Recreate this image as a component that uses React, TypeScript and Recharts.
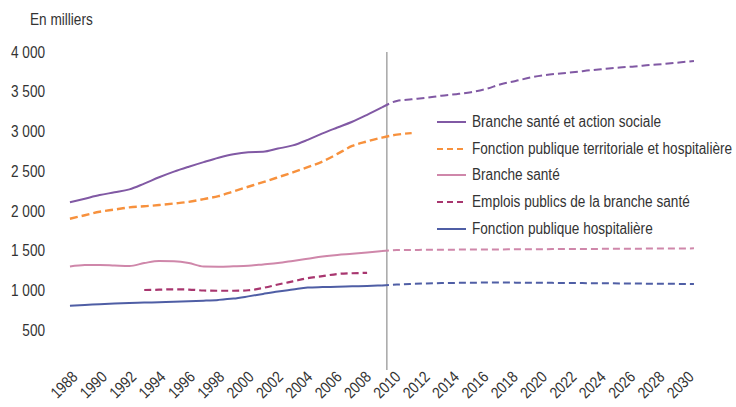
import React from "react"
import { LineChart, Line, XAxis, YAxis, ReferenceLine, Legend } from "recharts"

const FONT = "'Liberation Sans Narrow', 'Arial Narrow', 'Liberation Sans', sans-serif"
const NARROW = 0.85 // simule une police condensée

// Années (axe des abscisses)
const years = [
  1988, 1989, 1990, 1991, 1992, 1993, 1994, 1995, 1996, 1997, 1998, 1999, 2000, 2001, 2002,
  2003, 2004, 2005, 2006, 2007, 2008, 2009, 2010, 2011, 2012, 2013, 2014, 2015, 2016, 2017,
  2018, 2019, 2020, 2021, 2022, 2023, 2024, 2025, 2026, 2027, 2028, 2029, 2030,
]

// Branche santé et action sociale : 1988-2009 observé, 2009-2030 projeté
const santeActionSociale = [
  2110, 2155, 2200, 2235, 2272, 2345, 2424, 2495, 2557, 2615, 2670, 2715, 2740, 2745, 2785,
  2825, 2895, 2976, 3050, 3123, 3210, 3303,
]
const santeActionSocialeProj = [
  3303, 3384, 3405, 3425, 3450, 3470, 3495, 3535, 3595, 3635, 3680, 3710, 3730, 3748, 3770,
  3788, 3805, 3818, 3836, 3850, 3868, 3887,
]

// Fonction publique territoriale et hospitalière : 1988-2011
const fpTerritorialeHosp = [
  1903, 1947, 1991, 2018, 2046, 2060, 2075, 2094, 2115, 2150, 2187, 2247, 2305, 2363, 2424,
  2486, 2552, 2623, 2718, 2818, 2875, 2923, 2960, 2980,
]

// Branche santé : 1988-2009 observé, 2009-2030 projeté
const brancheSante = [
  1302, 1320, 1322, 1315, 1308, 1345, 1372, 1368, 1345, 1302, 1300, 1305, 1312, 1328, 1345,
  1372, 1400, 1428, 1448, 1462, 1478, 1497,
]
const brancheSanteProj = [
  1497, 1508, 1510, 1512, 1513, 1514, 1515, 1516, 1517, 1518, 1519, 1520, 1521, 1522, 1523,
  1524, 1525, 1526, 1527, 1528, 1529, 1530,
]

// Emplois publics de la branche santé : 1993-2008
const emploisPublicsSante = [
  1006, 1010, 1015, 1012, 1000, 997, 997, 1003, 1033, 1075, 1115, 1155, 1180, 1208, 1217, 1222,
]

// Fonction publique hospitalière : 1988-2009 observé, 2009-2030 projeté
const fpHospitaliere = [
  809, 818, 828, 837, 843, 848, 853, 858, 864, 872, 882, 898, 926, 957, 987,
  1012, 1037, 1043, 1047, 1052, 1057, 1064,
]
const fpHospitaliereProj = [
  1064, 1075, 1083, 1089, 1093, 1096, 1098, 1100, 1100, 1099, 1098, 1097, 1095, 1094, 1092,
  1091, 1089, 1088, 1086, 1085, 1083, 1082,
]

const yTicks = [500, 1000, 1500, 2000, 2500, 3000, 3500, 4000]
const yTickMarks = [0, 500, 1000, 1500, 2000, 2500, 3000, 3500, 4000]
const labelYears = years.filter((y) => y % 2 === 0)
const tickYears = [1987, ...years]

const pick = (arr: number[], start: number, year: number) => {
  const i = year - start
  return i >= 0 && i < arr.length ? arr[i] : undefined
}

const data = years.map((year) => ({
  year,
  sas: pick(santeActionSociale, 1988, year),
  sasP: pick(santeActionSocialeProj, 2009, year),
  fpth: pick(fpTerritorialeHosp, 1988, year),
  bs: pick(brancheSante, 1988, year),
  bsP: pick(brancheSanteProj, 2009, year),
  epbs: pick(emploisPublicsSante, 1993, year),
  fph: pick(fpHospitaliere, 1988, year),
  fphP: pick(fpHospitaliereProj, 2009, year),
}))

const PURPLE = "#8159a4"
const ORANGE = "#f7913d"
const PINK = "#cf87aa"
const MAGENTA = "#a8366f"
const BLUE = "#4f5ea5"

const legendItems = [
  { label: "Branche santé et action sociale", color: PURPLE, dash: undefined },
  { label: "Fonction publique territoriale et hospitalière", color: ORANGE, dash: "6 4" },
  { label: "Branche santé", color: PINK, dash: undefined },
  { label: "Emplois publics de la branche santé", color: MAGENTA, dash: "6 4" },
  { label: "Fonction publique hospitalière", color: BLUE, dash: undefined },
]

const YearTick = (props: any) => {
  const { x, y, payload } = props
  return (
    <text
      x={0}
      y={0}
      dy="0.35em"
      textAnchor="end"
      transform={`translate(${x - 4} ${y}) rotate(-45) scale(${NARROW} 1)`}
      fontSize={16}
      fontFamily={FONT}
      fill="#333"
    >
      {payload.value}
    </text>
  )
}

const formatFr = (v: number) => {
  const s = String(v)
  return s.length > 3 ? s.slice(0, s.length - 3) + " " + s.slice(-3) : s
}

const ValueTick = (props: any) => {
  const { x, y, payload } = props
  return (
    <text
      x={0}
      y={0}
      dy="0.35em"
      textAnchor="end"
      transform={`translate(${x} ${y}) scale(${NARROW} 1)`}
      fontSize={16}
      fontFamily={FONT}
      fill="#333"
    >
      {formatFr(payload.value)}
    </text>
  )
}

const renderLegend = () => (
  <div style={{ fontFamily: FONT, fontSize: 16, color: "#333" }}>
    {legendItems.map((item) => (
      <div key={item.label} style={{ display: "flex", alignItems: "center", height: 26.6 }}>
        <svg width={36} height={6} style={{ flex: "none" }}>
          <line
            x1={1}
            y1={3}
            x2={30}
            y2={3}
            stroke={item.color}
            strokeWidth={2}
            strokeDasharray={item.dash}
          />
        </svg>
        <span
          style={{
            whiteSpace: "nowrap",
            display: "inline-block",
            transform: `scaleX(${NARROW})`,
            transformOrigin: "left center",
          }}
        >
          {item.label}
        </span>
      </div>
    ))}
  </div>
)

export default function App() {
  return (
    <div style={{ position: "absolute", left: 0, top: 0, width: 736, height: 407, background: "#fff" }}>
      <div
        style={{
          position: "absolute",
          left: 30,
          top: 10,
          fontFamily: FONT,
          fontSize: 16,
          color: "#333",
          lineHeight: "20px",
          whiteSpace: "nowrap",
          transform: `scaleX(${NARROW})`,
          transformOrigin: "left center",
        }}
      >
        En milliers
      </div>
      <LineChart width={736} height={407} data={data} margin={{ top: 52, right: 41, bottom: 0, left: 0 }}>
        <XAxis
          xAxisId="lab"
          dataKey="year"
          type="number"
          domain={[1987, 2030]}
          allowDataOverflow
          ticks={labelYears}
          interval={0}
          height={37}
          tickLine={false}
          axisLine={false}
          tickSize={0}
          tickMargin={4}
          tick={<YearTick />}
        />
        <XAxis
          xAxisId="data"
          dataKey="year"
          type="number"
          domain={[1987.6, 2030.07]}
          allowDataOverflow
          height={0}
          hide
        />
        <XAxis
          xAxisId="tk"
          dataKey="year"
          type="number"
          domain={[1987, 2030]}
          allowDataOverflow
          ticks={tickYears}
          interval={0}
          mirror
          height={0}
          tick={false}
          tickSize={4}
          tickLine={{ stroke: "#595959", strokeWidth: 1 }}
          axisLine={{ stroke: "#595959", strokeWidth: 2 }}
        />
        <YAxis
          yAxisId="lab"
          type="number"
          domain={[0, 4000]}
          ticks={yTicks}
          interval={0}
          width={64}
          tickLine={false}
          axisLine={false}
          tickSize={0}
          tickMargin={19}
          tick={<ValueTick />}
        />
        <YAxis
          yAxisId="tk"
          type="number"
          domain={[0, 4000]}
          ticks={yTickMarks}
          interval={0}
          mirror
          width={0}
          tick={false}
          tickSize={4}
          tickLine={{ stroke: "#595959", strokeWidth: 1 }}
          axisLine={{ stroke: "#595959", strokeWidth: 2 }}
        />
        <ReferenceLine xAxisId="tk" yAxisId="lab" x={2009} stroke="#a6a6a6" strokeWidth={1.5} />
        <Legend
          layout="vertical"
          align="center"
          verticalAlign="middle"
          content={renderLegend}
          wrapperStyle={{ left: 436, top: 109, width: 300 }}
        />
        <Line xAxisId="data" yAxisId="lab" type="monotone" dataKey="fph" stroke={BLUE} strokeWidth={2} dot={false} isAnimationActive={false} />
        <Line xAxisId="data" yAxisId="lab" type="monotone" dataKey="fphP" stroke={BLUE} strokeWidth={2} strokeDasharray="7 4" dot={false} isAnimationActive={false} />
        <Line xAxisId="data" yAxisId="lab" type="monotone" dataKey="epbs" stroke={MAGENTA} strokeWidth={2.2} strokeDasharray="7 4" dot={false} isAnimationActive={false} />
        <Line xAxisId="data" yAxisId="lab" type="monotone" dataKey="bs" stroke={PINK} strokeWidth={2} dot={false} isAnimationActive={false} />
        <Line xAxisId="data" yAxisId="lab" type="monotone" dataKey="bsP" stroke={PINK} strokeWidth={2} strokeDasharray="7 4" dot={false} isAnimationActive={false} />
        <Line xAxisId="data" yAxisId="lab" type="monotone" dataKey="fpth" stroke={ORANGE} strokeWidth={2.4} strokeDasharray="8 4" dot={false} isAnimationActive={false} />
        <Line xAxisId="data" yAxisId="lab" type="monotone" dataKey="sas" stroke={PURPLE} strokeWidth={2} dot={false} isAnimationActive={false} />
        <Line xAxisId="data" yAxisId="lab" type="monotone" dataKey="sasP" stroke={PURPLE} strokeWidth={2} strokeDasharray="8 4" dot={false} isAnimationActive={false} />
      </LineChart>
    </div>
  )
}
